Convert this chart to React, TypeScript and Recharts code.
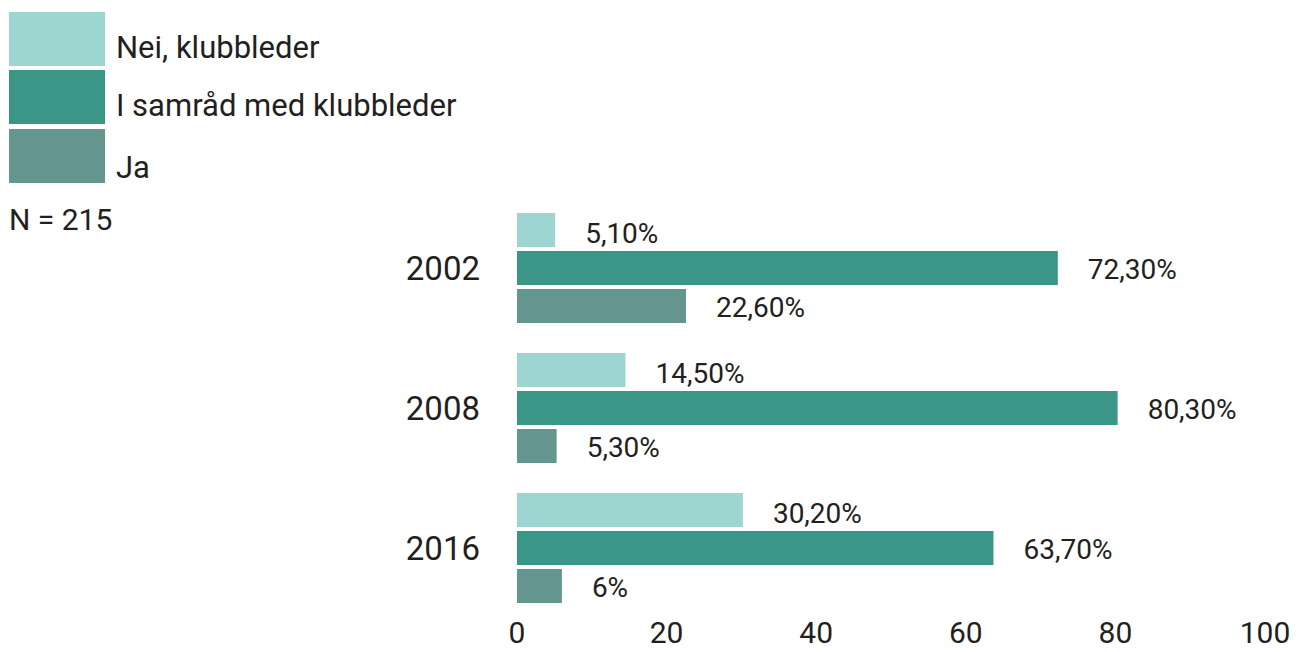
import { BarChart, Bar, XAxis, YAxis, LabelList } from 'recharts'

const years = ['2002', '2008', '2016']
const nei = [5.1, 14.5, 30.2]
const samrad = [72.3, 80.3, 63.7]
const ja = [22.6, 5.3, 6]
const neiLabels = ['5,10%', '14,50%', '30,20%']
const samradLabels = ['72,30%', '80,30%', '63,70%']
const jaLabels = ['22,60%', '5,30%', '6%']
const xTicks = [0, 20, 40, 60, 80, 100]

const seriesNames = ['Nei, klubbleder', 'I samråd med klubbleder', 'Ja']
const colors = ['#9dd6d0', '#3a9787', '#64958f']

const data = years.map((year, i) => ({
  year,
  nei: nei[i],
  samrad: samrad[i],
  ja: ja[i],
  neiLabel: neiLabels[i],
  samradLabel: samradLabels[i],
  jaLabel: jaLabels[i],
}))

const font = 'Roboto, sans-serif'
const textColor = '#231f20'
const labelStyle = { fontSize: 28, fill: textColor, fontFamily: font }

export default function App() {
  return (
    <div style={{ position: 'absolute', left: 0, top: 0, width: 1298, height: 652, background: '#fff', fontFamily: font, color: textColor }}>
      <div style={{ position: 'absolute', left: 9, top: 12 }}>
        {seriesNames.map((name, i) => (
          <div key={name} style={{ display: 'flex', alignItems: 'flex-end', height: 54, marginBottom: i === 1 ? 5 : 4 }}>
            <div style={{ width: 96, height: 54, background: colors[i] }} />
            <span style={{ fontSize: 31, marginLeft: 11, lineHeight: '34px', marginBottom: i === 2 ? -2 : 1 }}>{name}</span>
          </div>
        ))}
      </div>
      <div style={{ position: 'absolute', left: 9, top: 202, fontSize: 30 }}>N = 215</div>
      <BarChart
        width={1298}
        height={652}
        data={data}
        layout="vertical"
        margin={{ top: 198, right: 33, bottom: 0, left: 0 }}
        barSize={34}
        barGap={4}
      >
        <XAxis
          type="number"
          domain={[0, 100]}
          ticks={xTicks}
          height={34}
          axisLine={false}
          tickLine={false}
          tickSize={0}
          tickMargin={4}
          tick={{ fontSize: 30, fill: textColor, fontFamily: font }}
          interval={0}
        />
        <YAxis
          type="category"
          dataKey="year"
          width={517}
          axisLine={false}
          tickLine={false}
          tickSize={0}
          tickMargin={37}
          tick={{ fontSize: 33, fill: textColor, fontFamily: font }}
        />
        <Bar dataKey="nei" fill={colors[0]} isAnimationActive={false}>
          <LabelList dataKey="neiLabel" position="right" offset={30} dy={3} style={labelStyle} />
        </Bar>
        <Bar dataKey="samrad" fill={colors[1]} isAnimationActive={false}>
          <LabelList dataKey="samradLabel" position="right" offset={30} dy={1} style={labelStyle} />
        </Bar>
        <Bar dataKey="ja" fill={colors[2]} isAnimationActive={false}>
          <LabelList dataKey="jaLabel" position="right" offset={30} dy={1} style={labelStyle} />
        </Bar>
      </BarChart>
    </div>
  )
}
